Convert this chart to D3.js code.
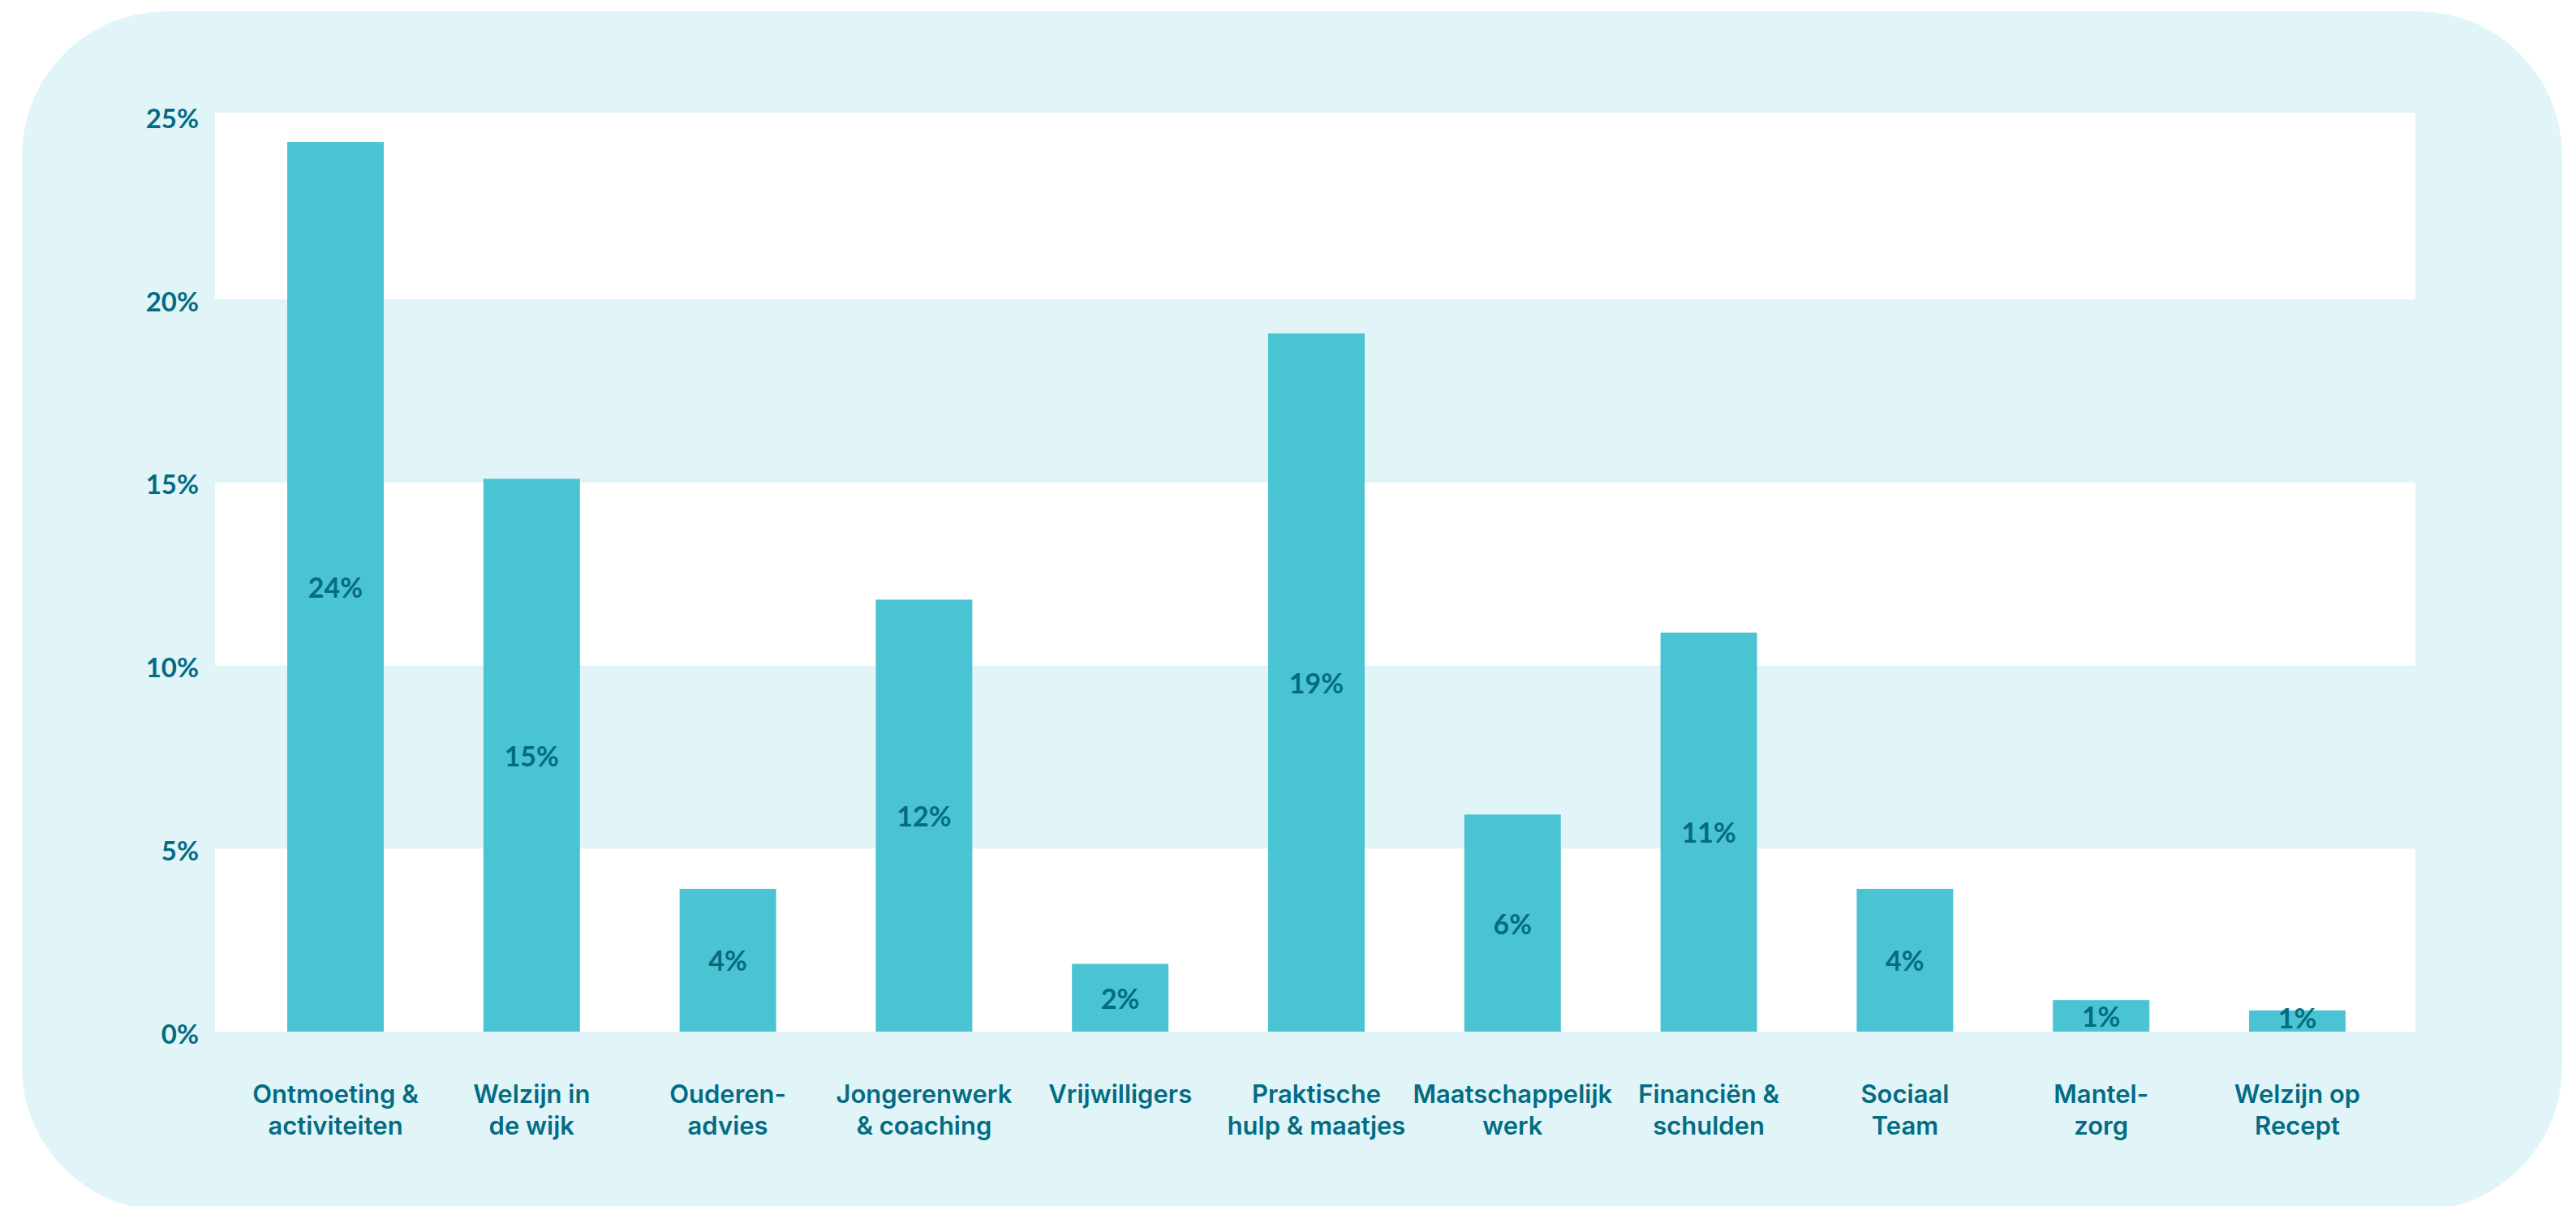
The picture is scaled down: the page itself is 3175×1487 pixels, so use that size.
<!DOCTYPE html>
<html>
<head>
<meta charset="utf-8">
<script src="https://cdn.jsdelivr.net/npm/d3@7"></script>
<style>
  html, body { margin: 0; padding: 0; background: #ffffff; }
  svg { display: block; }
</style>
</head>
<body>
<svg id="chart" width="3175" height="1487"></svg>
<script>
// ---- data ----
const categories = [
  "Ontmoeting & activiteiten",
  "Welzijn in de wijk",
  "Ouderen- advies",
  "Jongerenwerk & coaching",
  "Vrijwilligers",
  "Praktische hulp & maatjes",
  "Maatschappelijk werk",
  "Financiën & schulden",
  "Sociaal Team",
  "Mantel- zorg",
  "Welzijn op Recept"
];
const labelLines = [
  ["Ontmoeting &", "activiteiten"],
  ["Welzijn in", "de wijk"],
  ["Ouderen-", "advies"],
  ["Jongerenwerk", "& coaching"],
  ["Vrijwilligers"],
  ["Praktische", "hulp & maatjes"],
  ["Maatschappelijk", "werk"],
  ["Financiën &", "schulden"],
  ["Sociaal", "Team"],
  ["Mantel-", "zorg"],
  ["Welzijn op", "Recept"]
];
const values = [24.3, 15.1, 3.9, 11.8, 1.85, 19.07, 5.93, 10.9, 3.9, 0.86, 0.58];
const yTicks = [0, 5, 10, 15, 20, 25];

// ---- style ----
const TEXT = "#046c82";
const BAR = "#4ac4d3";
const PANEL = "#e1f5f9";

const svg = d3.select("#chart");

// background panel
svg.append("rect")
  .attr("x", 27).attr("y", 14)
  .attr("width", 3131).attr("height", 1479)
  .attr("rx", 178).attr("ry", 178)
  .attr("fill", PANEL);

const plot = { left: 265, right: 2977, top: 139, bottom: 1272 };

const y = d3.scaleLinear().domain([0, 25]).range([1272, 143.5]);
const x = d3.scaleBand()
  .domain(categories)
  .range([292.6, 2952.4])
  .paddingInner(0.508)
  .paddingOuter(0.254);

// alternating bands
const bands = [[0, 5, "#ffffff"], [5, 10, PANEL], [10, 15, "#ffffff"], [15, 20, PANEL], [20, 25, "#ffffff"]];
svg.append("g").selectAll("rect").data(bands).join("rect")
  .attr("x", plot.left)
  .attr("width", plot.right - plot.left)
  .attr("y", d => d[1] === 25 ? plot.top : y(d[1]))
  .attr("height", d => y(d[0]) - (d[1] === 25 ? plot.top : y(d[1])))
  .attr("fill", d => d[2]);

// bars
svg.append("g").selectAll("rect").data(values).join("rect")
  .attr("x", (d, i) => x(categories[i]))
  .attr("width", x.bandwidth())
  .attr("y", d => y(d))
  .attr("height", d => y(0) - y(d))
  .attr("fill", BAR);

// value labels
const fmt = d3.format(".0f");
svg.append("g").selectAll("text").data(values).join("text")
  .attr("x", (d, i) => x(categories[i]) + x.bandwidth() / 2)
  .attr("y", d => Math.min((y(d) + y(0)) / 2, y(0) - 18))
  .attr("text-anchor", "middle")
  .attr("dominant-baseline", "central")
  .attr("font-family", "Lato, sans-serif")
  .attr("font-weight", 700)
  .attr("font-size", 34)
  .attr("fill", TEXT)
  .text(d => fmt(d) + "%");

// y axis
const yAxis = d3.axisLeft(y).tickValues(yTicks).tickSize(0).tickPadding(20).tickFormat(d => d + "%");
const yg = svg.append("g").attr("transform", `translate(${plot.left},0)`).call(yAxis);
yg.select(".domain").remove();
yg.selectAll("text")
  .attr("dy", null)
  .attr("dominant-baseline", "central")
  .attr("transform", "translate(0,1)")
  .attr("font-family", "Lato, sans-serif")
  .attr("font-weight", 700)
  .attr("font-size", 33)
  .attr("fill", TEXT);

// x axis labels
const xAxis = d3.axisBottom(x).tickSize(0).tickFormat("");
const xg = svg.append("g").attr("transform", `translate(0,${plot.bottom})`).call(xAxis);
xg.select(".domain").remove();
xg.selectAll(".tick").each(function(d, i) {
  const t = d3.select(this).append("text")
    .attr("text-anchor", "middle")
    .attr("font-family", "Inter, sans-serif")
    .attr("font-weight", 600)
    .attr("font-size", 31)
    .attr("fill", TEXT);
  labelLines[i].forEach((line, k) => {
    t.append("tspan").attr("x", 0).attr("y", 88 + k * 38.5).text(line);
  });
});
</script>
</body>
</html>
